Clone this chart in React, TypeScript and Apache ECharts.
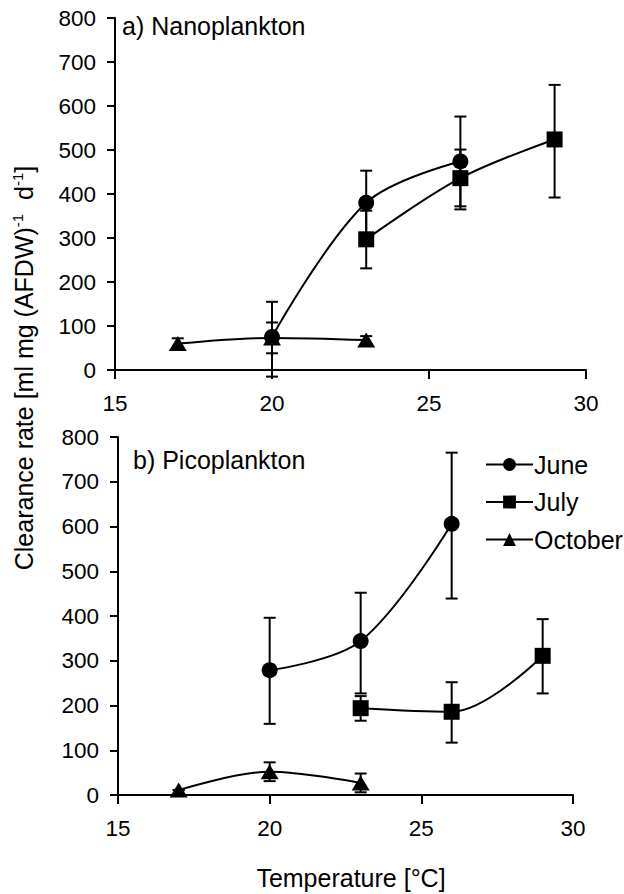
import React, { useEffect, useRef } from "react";
import * as echarts from "echarts";

// Temperatures (°C) at which each month's clearance rates were measured
const juneTemps = [20, 23, 26];
const julyTemps = [23, 26, 29];
const octoberTemps = [17, 20, 23];

// a) Nanoplankton: mean clearance rate and error-bar limits
const nanoJune = [75, 380, 474];
const nanoJuneLow = [-15, 307, 372];
const nanoJuneHigh = [155, 453, 576];
const nanoJuly = [297, 436, 524];
const nanoJulyLow = [231, 365, 392];
const nanoJulyHigh = [362, 501, 648];
const nanoOctober = [60, 73, 68];
const nanoOctoberLow = [48, 38, 59];
const nanoOctoberHigh = [72, 108, 77];

// b) Picoplankton
const picoJune = [279, 344, 606];
const picoJuneLow = [159, 227, 439];
const picoJuneHigh = [396, 452, 765];
const picoJuly = [194, 186, 311];
const picoJulyLow = [166, 117, 227];
const picoJulyHigh = [221, 252, 393];
const picoOctober = [11, 52, 27];
const picoOctoberLow = [11, 31, 6];
const picoOctoberHigh = [11, 73, 48];

const monthNames = ["June", "July", "October"];
const monthSymbols = ["circle", "rect", "triangle"];
const yTicks = [0, 100, 200, 300, 400, 500, 600, 700, 800];

const FONT = '"Liberation Sans", Arial, Helvetica, sans-serif';
const TICK_FS = 22.5;
const LABEL_FS = 25;
const INK = "#000000";

const pairs = (xs: number[], ys: number[]) => xs.map((x, i) => [x, ys[i]]);
const bars = (xs: number[], lo: number[], hi: number[]) =>
  xs.map((x, i) => [x, lo[i], hi[i]]);

function errorBarSeries(gridIndex: number, data: number[][]) {
  return {
    type: "custom",
    xAxisIndex: gridIndex,
    yAxisIndex: gridIndex,
    clip: false,
    silent: true,
    z: 1,
    data,
    renderItem: (_params: any, api: any) => {
      const x = api.value(0);
      const lo = api.coord([x, api.value(1)]);
      const hi = api.coord([x, api.value(2)]);
      const half = 6;
      const style = { stroke: INK, lineWidth: 2 };
      return {
        type: "group",
        children: [
          { type: "line", shape: { x1: lo[0], y1: lo[1], x2: hi[0], y2: hi[1] }, style },
          { type: "line", shape: { x1: lo[0] - half, y1: lo[1], x2: lo[0] + half, y2: lo[1] }, style },
          { type: "line", shape: { x1: hi[0] - half, y1: hi[1], x2: hi[0] + half, y2: hi[1] }, style },
        ],
      };
    },
  };
}

function lineSeries(gridIndex: number, monthIdx: number, data: number[][]) {
  const sym = monthSymbols[monthIdx];
  return {
    type: "line",
    name: monthNames[monthIdx],
    xAxisIndex: gridIndex,
    yAxisIndex: gridIndex,
    data,
    smooth: 0.35,
    symbol: sym,
    symbolSize: sym === "triangle" ? [18, 15] : 16,
    showAllSymbol: true,
    z: 3,
    itemStyle: { color: INK, borderWidth: 0 },
    lineStyle: { color: INK, width: 2 },
  };
}

function xAxis(gridIndex: number) {
  return {
    type: "value",
    gridIndex,
    min: 15,
    max: 30,
    interval: 5,
    axisLine: { show: true, onZero: false, lineStyle: { color: INK, width: 2 } },
    axisTick: { show: true, inside: false, length: 9, lineStyle: { color: INK, width: 2 } },
    axisLabel: { color: INK, fontSize: TICK_FS, fontFamily: FONT, margin: 22 },
    splitLine: { show: false },
  };
}

function yAxis(gridIndex: number) {
  return {
    type: "value",
    gridIndex,
    min: 0,
    max: 800,
    interval: 100,
    axisLine: { show: true, lineStyle: { color: INK, width: 2 } },
    axisTick: { show: true, inside: false, length: 8, lineStyle: { color: INK, width: 2 } },
    axisLabel: {
      color: INK,
      fontSize: TICK_FS,
      fontFamily: FONT,
      margin: 19,
      formatter: (v: number) => (yTicks.includes(v) ? String(v) : ""),
    },
    splitLine: { show: false },
  };
}

export default function App() {
  const ref = useRef<HTMLDivElement>(null);

  useEffect(() => {
    if (!ref.current) return;
    const chart = echarts.init(ref.current, undefined, { renderer: "svg" });

    const option: any = {
      animation: false,
      backgroundColor: "#ffffff",
      textStyle: { fontFamily: FONT, color: INK },
      grid: [
        { left: 115, right: 38, top: 18, height: 352 },
        { left: 118, right: 51, top: 437, height: 358 },
      ],
      xAxis: [xAxis(0), xAxis(1)],
      yAxis: [yAxis(0), yAxis(1)],
      legend: {
        data: monthNames,
        orient: "vertical",
        left: 480,
        top: 447,
        itemWidth: 47,
        itemHeight: 16,
        itemGap: 12.5,
        textStyle: { color: INK, fontSize: LABEL_FS, fontFamily: FONT, padding: [0, 0, 0, -4] },
        selectedMode: false,
      },
      graphic: [
        {
          type: "text",
          left: 122,
          top: 13,
          style: { text: "a) Nanoplankton", fill: INK, fontSize: LABEL_FS, fontFamily: FONT },
        },
        {
          type: "text",
          left: 133,
          top: 447,
          style: { text: "b) Picoplankton", fill: INK, fontSize: LABEL_FS, fontFamily: FONT },
        },
        {
          type: "text",
          x: 24,
          y: 368,
          rotation: Math.PI / 2,
          style: {
            text: "{n|Clearance rate [ml mg (AFDW)}{s|-1}{n|  d}{s|-1}{n|]}",
            align: "center",
            verticalAlign: "middle",
            textAlign: "center",
            textVerticalAlign: "middle",
            fill: INK,
            rich: {
              n: { fontSize: LABEL_FS, fontFamily: FONT, lineHeight: 29, verticalAlign: "middle", color: INK },
              s: { fontSize: 15, fontFamily: FONT, lineHeight: 16, verticalAlign: "top", color: INK },
            },
          },
        },
        {
          type: "text",
          x: 351,
          y: 878,
          style: {
            text: "Temperature [°C]",
            align: "center",
            verticalAlign: "middle",
            textAlign: "center",
            textVerticalAlign: "middle",
            fill: INK,
            fontSize: LABEL_FS,
            fontFamily: FONT,
          },
        },
      ],
      series: [
        errorBarSeries(0, bars(juneTemps, nanoJuneLow, nanoJuneHigh)),
        errorBarSeries(0, bars(julyTemps, nanoJulyLow, nanoJulyHigh)),
        errorBarSeries(0, bars(octoberTemps, nanoOctoberLow, nanoOctoberHigh)),
        lineSeries(0, 0, pairs(juneTemps, nanoJune)),
        lineSeries(0, 1, pairs(julyTemps, nanoJuly)),
        lineSeries(0, 2, pairs(octoberTemps, nanoOctober)),
        errorBarSeries(1, bars(juneTemps, picoJuneLow, picoJuneHigh)),
        errorBarSeries(1, bars(julyTemps, picoJulyLow, picoJulyHigh)),
        errorBarSeries(1, bars(octoberTemps, picoOctoberLow, picoOctoberHigh)),
        lineSeries(1, 0, pairs(juneTemps, picoJune)),
        lineSeries(1, 1, pairs(julyTemps, picoJuly)),
        lineSeries(1, 2, pairs(octoberTemps, picoOctober)),
      ],
    };

    chart.setOption(option);
    return () => chart.dispose();
  }, []);

  return <div ref={ref} style={{ width: 624, height: 894, position: "absolute", left: 0, top: 0 }} />;
}
